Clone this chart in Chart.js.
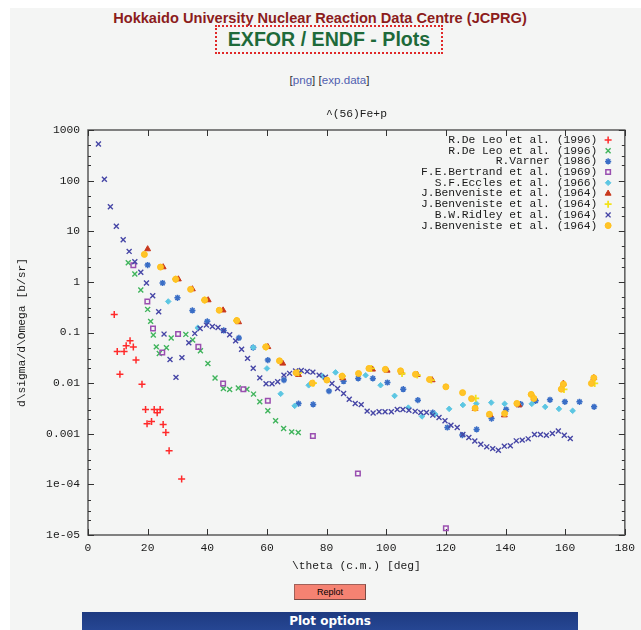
<!DOCTYPE html>
<html>
<head>
<meta charset="utf-8">
<title>EXFOR / ENDF - Plots</title>
<script src="https://cdn.jsdelivr.net/npm/chart.js@4.4.1/dist/chart.umd.min.js"></script>
<style>
  html, body { margin: 0; padding: 0; background: #fff; width: 641px; height: 630px; overflow: hidden; }
  #panel { position: absolute; left: 10px; top: 8px; right: 0; bottom: 0; background: #f4f5f4; }
  .abs { position: absolute; }
  #org { left: 0; top: 9px; width: 640px; text-align: center; font: bold 14.6px "Liberation Sans", Arial, sans-serif; line-height: 18px; color: #8c1c1c; }
  #head { left: 215px; top: 25px; width: 228px; height: 29px; box-sizing: border-box; border: 2px dotted #e02828; text-align: center; font: bold 19.6px "Liberation Sans", Arial, sans-serif; line-height: 25px; color: #1e6a3a; }
  #links { left: 0; top: 73px; width: 659px; text-align: center; font: 11.6px "Liberation Sans", Arial, sans-serif; line-height: 14px; color: #333; }
  #links a { color: #5060b0; text-decoration: none; }
  #plot { left: 0; top: 100px; width: 641px; height: 480px; }
  #replot { left: 294px; top: 584px; width: 72px; height: 16px; box-sizing: border-box; background: #f58272; border: 1px solid #a06058; border-right-color: #7a4a44; border-bottom-color: #7a4a44; font: 9px "Liberation Sans", Arial, sans-serif; line-height: 14px; text-align: center; color: #000; }
  #options { left: 82px; top: 612px; width: 496px; height: 30px; background: linear-gradient(#1d3a80, #2c4fa0); color: #fff; font: bold 12px "DejaVu Sans", sans-serif; text-align: center; line-height: 18px; }
</style>
</head>
<body>
<div class="abs" style="left:0;top:0;width:10px;height:630px;background:#fff"></div>
<div id="panel"></div>
<div id="org" class="abs">Hokkaido University Nuclear Reaction Data Centre (JCPRG)</div>
<div id="head" class="abs">EXFOR / ENDF - Plots</div>
<div id="links" class="abs">[<a href="#">png</a>] [<a href="#">exp.data</a>]</div>
<div id="plot" class="abs"><canvas id="chart" width="641" height="480"></canvas></div>
<div id="replot" class="abs">Replot</div>
<div id="options" class="abs">Plot options</div>

<script>
// Titulos e legendas
const plotTitle = "^(56)Fe+p";
const xTitle = "\\theta (c.m.) [deg]";
const yTitle = "d\\sigma/d\\Omega [b/sr]";
const seriesNames = [
  "R.De Leo et al. (1996)",
  "R.De Leo et al. (1996)",
  "R.Varner (1986)",
  "F.E.Bertrand et al. (1969)",
  "S.F.Eccles et al. (1966)",
  "J.Benveniste et al. (1964)",
  "J.Benveniste et al. (1964)",
  "B.W.Ridley et al. (1964)",
  "J.Benveniste et al. (1964)"
];

// Ticks
const xTicks = [0, 20, 40, 60, 80, 100, 120, 140, 160, 180];
const yTicks = [1e-5, 1e-4, 1e-3, 1e-2, 1e-1, 1, 10, 100, 1000];
const yTickLabels = ["1e-05", "1e-04", "0.001", "0.01", "0.1", "1", "10", "100", "1000"];

// Dados (angulo, secao de choque)
const deLeoA_theta = [8.8, 9.8, 10.7, 12.1, 12.8, 14.1, 15.2, 16.1, 18.1, 19.3, 19.8, 21.3, 22.2, 23.2, 24.2, 25.2, 26.1, 27.2, 31.4];
const deLeoA_sig = [0.228, 0.042, 0.0149, 0.042, 0.0546, 0.0686, 0.052, 0.0285, 0.0095, 0.003, 0.00157, 0.00175, 0.003, 0.00259, 0.003, 0.00153, 0.00106, 0.00046, 1.27e-4];

const deLeoB_theta = [13.5, 15.7, 17.7, 20.0, 21.0, 21.9, 22.9, 23.9, 26.3, 27.9, 32.8, 35.1, 37.7, 40.2, 42.6, 45.4, 47.5, 50.4, 53.3, 55.5, 57.6, 60.3, 62.9, 65.6, 68.3, 70.5];
const deLeoB_sig = [2.38, 1.43, 0.69, 0.286, 0.166, 0.089, 0.052, 0.0386, 0.0499, 0.078, 0.0917, 0.0708, 0.0436, 0.0245, 0.0126, 0.00785, 0.0075, 0.008, 0.0076, 0.00607, 0.00427, 0.00284, 0.0018, 0.00127, 0.00109, 0.00106];

const varner_theta = [20, 25, 30, 35, 40, 45.5, 50.6, 55.4, 60.3, 65.7, 70.6, 75.5, 80.8, 85.7, 90.6, 95.5, 100.4, 105.7, 110.6, 115.6, 120.5, 125.5, 130.3, 135.3, 140.2, 145.1, 150.1, 154.9, 159.9, 164.8, 169.7];
const varner_sig = [2.15, 0.95, 0.485, 0.273, 0.166, 0.110, 0.078, 0.0503, 0.0285, 0.0115, 0.00394, 0.0038, 0.00695, 0.0109, 0.0124, 0.0124, 0.0103, 0.0076, 0.00461, 0.00261, 0.00133, 0.00094, 0.00122, 0.00199, 0.0030, 0.00385, 0.00447, 0.00468, 0.00427, 0.00427, 0.0034];

const bertrand_theta = [15.2, 19.9, 21.8, 24.9, 30.2, 37.0, 45.3, 52.1, 60.3, 75.4, 90.5, 120.0];
const bertrand_sig = [2.13, 0.408, 0.12, 0.0404, 0.093, 0.052, 0.00986, 0.0076, 0.00447, 0.0009, 1.64e-4, 1.36e-5];

const eccles_theta = [26.9, 36.8, 55.4, 60.0, 64.6, 69.3, 74.0, 78.7, 83.0, 93.1, 98.1, 102.8, 107.4, 112.0, 116.4, 121.1, 125.7, 130.2, 135.2, 139.7, 144.4, 148.8, 153.3, 157.9, 162.5];
const eccles_sig = [0.41, 0.124, 0.0508, 0.0195, 0.00615, 0.00356, 0.00906, 0.0137, 0.0163, 0.0143, 0.0091, 0.0056, 0.00328, 0.0022, 0.00244, 0.0031, 0.0037, 0.00393, 0.00412, 0.0039, 0.00372, 0.0039, 0.0034, 0.0031, 0.00284];

const benvA_theta = [20.0, 25.2, 30.3, 35.0, 40.3, 45.3, 50.5, 60.3, 65.3, 70.6, 85.4, 95.4, 100.3, 105.2, 110.4, 115.4, 129.8, 134.8, 139.6, 144.5, 149.5, 159.4, 169.6];
const benvA_sig = [4.45, 1.96, 1.13, 0.72, 0.437, 0.275, 0.161, 0.052, 0.0245, 0.0146, 0.0126, 0.0187, 0.0178, 0.0163, 0.0147, 0.0115, 0.00313, 0.00236, 0.00233, 0.00367, 0.00499, 0.00986, 0.0127];

const benvB_theta = [29.4, 39.1, 49.8, 59.7, 70.6, 75.6, 85.3, 95.0, 105.3, 110.4, 115.1, 130.0, 148.7, 159.6, 169.9];
const benvB_sig = [1.13, 0.437, 0.172, 0.052, 0.016, 0.01, 0.0137, 0.0195, 0.0155, 0.0144, 0.0115, 0.005, 0.0058, 0.0075, 0.00986];

const ridley_theta = [3.5, 5.5, 7.5, 9.5, 11.8, 13.8, 15.7, 17.7, 19.6, 21.7, 23.7, 25.5, 27.5, 29.5, 31.5,
  33.8, 35.8, 37.6, 39.7, 41.7, 43.6, 45.5, 47.5, 49.5, 51.5, 53.5, 55.4, 57.6, 59.7, 61.7, 63.6, 65.7, 67.6, 69.6, 71.5,
  73.5, 75.4, 77.5, 79.6, 81.8, 83.7, 85.7, 87.6, 89.6, 91.6, 93.6, 95.6, 97.6, 99.6, 101.7, 103.7, 105.6, 107.6, 109.7, 111.6,
  113.5, 115.6, 117.7, 119.7, 121.7, 123.8, 125.7, 127.7, 129.7, 131.7, 133.7, 135.7, 137.6, 139.6, 141.6, 143.6, 145.6, 147.6, 149.7, 151.7,
  153.7, 155.7, 157.7, 159.7, 161.7];
const ridley_sig = [528, 106, 30.5, 12.5, 6.8, 4.0, 2.5, 1.55, 0.947, 0.531, 0.256, 0.093, 0.0294, 0.013, 0.0319,
  0.0625, 0.096, 0.12, 0.14, 0.131, 0.125, 0.109, 0.0901, 0.0683, 0.0466, 0.0308, 0.0196, 0.0127, 0.00968, 0.00968, 0.0106, 0.0144, 0.0156, 0.0173, 0.0177,
  0.017, 0.0165, 0.0144, 0.0131, 0.00986, 0.00786, 0.00625, 0.00479, 0.00397, 0.00376, 0.0028, 0.00258, 0.00271, 0.00271, 0.00271, 0.00302, 0.00302, 0.00292, 0.00277, 0.00264,
  0.00264, 0.00233, 0.0021, 0.0018, 0.00147, 0.00133, 0.00097, 0.000845, 0.000721, 0.000618, 0.000551, 0.000508, 0.000474, 0.000569, 0.000577, 0.000724, 0.000748, 0.000793, 0.00097, 0.00097,
  0.000938, 0.00101, 0.00113, 0.000938, 0.000807];

const benvC_theta = [18.9, 24.3, 29.4, 34.4, 39.1, 44.0, 49.9, 59.6, 64.2, 69.8, 75.2, 80.1, 85.2, 90.7, 94.2, 99.7, 104.8, 109.8, 114.5, 120.0, 125.6, 128.6, 129.8, 134.6, 139.7, 143.8, 148.6, 149.5, 158.7, 159.4, 168.8, 169.6];
const benvC_sig = [3.49, 1.96, 1.13, 0.711, 0.437, 0.275, 0.172, 0.052, 0.0276, 0.016, 0.01, 0.0115, 0.0137, 0.0155, 0.0195, 0.0187, 0.0175, 0.0149, 0.0118, 0.00845, 0.00649, 0.00494, 0.0032, 0.00242, 0.00252, 0.00397, 0.00598, 0.00499, 0.0076, 0.00955, 0.00986, 0.0127];

// Estilos dos marcadores (gnuplot)
const markerStyles = ["cross", "crossRot", "star", "rect", "rectRot", "triangle", "cross", "crossRot", "circle"];
const markerColors = ["#ff2a2a", "#40b45c", "#3a6ec6", "#9a4fb0", "#5cc6e2", "#c8381c", "#f2e21a", "#4646a6", "#ffbf1c"];
const markerFills = ["#ff2a2a", "#40b45c", "#3a6ec6", "rgba(0,0,0,0)", "#5cc6e2", "#c8381c", "#f2e21a", "#4646a6", "#ffc428"];
const markerSizes = [3.5, 3.5, 3.1, 3.2, 2.8, 3.4, 3.5, 3.5, 3];
const markerWidths = [1.5, 1.4, 1.5, 1.5, 1, 1, 1.8, 1.4, 1];

const thetas = [deLeoA_theta, deLeoB_theta, varner_theta, bertrand_theta, eccles_theta, benvA_theta, benvB_theta, ridley_theta, benvC_theta];
const sigmas = [deLeoA_sig, deLeoB_sig, varner_sig, bertrand_sig, eccles_sig, benvA_sig, benvB_sig, ridley_sig, benvC_sig];

const monoFont = "'Liberation Mono', 'DejaVu Sans Mono', monospace";
const fSize = 11.3;

// Montar datasets
var datasets = seriesNames.map(function(name, i){
  return {
    label: name,
    data: thetas[i].map((t, k) => ({x: t, y: sigmas[i][k]})),
    pointStyle: markerStyles[i],
    pointRadius: markerSizes[i],
    pointBorderWidth: markerWidths[i],
    borderColor: markerColors[i],
    backgroundColor: markerFills[i],
    showLine: false,
    order: seriesNames.length - 1 - i
  };
});

// Moldura, ticks, titulo e legenda
const gnuplotFrame = {
  id: "gnuplotFrame",
  beforeDatasetsDraw(chart){
    const ctx = chart.ctx;
    const a = chart.chartArea;
    const sx = chart.scales.x, sy = chart.scales.y;
    ctx.save();
    ctx.strokeStyle = "#5a5a5a";
    ctx.lineWidth = 1.5;
    ctx.strokeRect(a.left, a.top, a.right - a.left, a.bottom - a.top);
    ctx.lineWidth = 1;
    ctx.strokeStyle = "#333";
    ctx.beginPath();
    xTicks.forEach(t => {
      const px = Math.round(sx.getPixelForValue(t)) + 0.5;
      ctx.moveTo(px, a.bottom); ctx.lineTo(px, a.bottom - 6);
      ctx.moveTo(px, a.top); ctx.lineTo(px, a.top + 6);
    });
    yTicks.forEach(t => {
      const py = Math.round(sy.getPixelForValue(t)) + 0.5;
      ctx.moveTo(a.left, py); ctx.lineTo(a.left + 6, py);
      ctx.moveTo(a.right, py); ctx.lineTo(a.right - 6, py);
      if (t < 1000) {
        [2, 3, 5].forEach(m => {
          const pm = Math.round(sy.getPixelForValue(t * m)) + 0.5;
          ctx.moveTo(a.left, pm); ctx.lineTo(a.left + 3, pm);
          ctx.moveTo(a.right, pm); ctx.lineTo(a.right - 3, pm);
        });
      }
    });
    ctx.stroke();
    ctx.restore();
  },
  afterDraw(chart){
    const ctx = chart.ctx;
    const a = chart.chartArea;
    ctx.save();
    ctx.fillStyle = "#1a1a1a";
    ctx.font = fSize + "px " + monoFont;
    ctx.textBaseline = "middle";
    ctx.textAlign = "center";
    ctx.fillText(plotTitle, (a.left + a.right) / 2, 13.6);

    // Legenda no canto superior direito
    ctx.textAlign = "right";
    seriesNames.forEach((name, i) => {
      const yy = a.top + 10 + i * 10.7;
      ctx.fillStyle = "#1a1a1a";
      ctx.fillText(name, a.right - 27.5, yy);
      ctx.strokeStyle = markerColors[i];
      ctx.fillStyle = markerFills[i];
      ctx.lineWidth = markerWidths[i];
      Chart.helpers.drawPoint(ctx, {pointStyle: markerStyles[i], radius: markerSizes[i], borderWidth: markerWidths[i], rotation: 0}, a.right - 16.7, yy);
    });
    ctx.restore();
  }
};

const MyChart = new Chart(document.getElementById("chart"), {
  type: "scatter",
  data: {datasets: datasets},
  options: {
    responsive: false,
    animation: false,
    events: [],
    layout: {padding: {top: 30, right: 16, bottom: 0, left: 0}},
    plugins: {legend: {display: false}, title: {display: false}, tooltip: {enabled: false}},
    scales: {
      x: {
        type: "linear",
        min: 0,
        max: 180,
        afterFit: s => { s.height = 45; },
        afterBuildTicks: s => { s.ticks = xTicks.map(v => ({value: v})); },
        grid: {display: false, drawTicks: false},
        border: {display: false},
        ticks: {autoSkip: false, maxRotation: 0, padding: 6, color: "#1a1a1a", font: {family: monoFont, size: fSize}},
        title: {display: true, text: xTitle, color: "#1a1a1a", font: {family: monoFont, size: fSize}, padding: {top: 0, bottom: 7.2}}
      },
      y: {
        type: "logarithmic",
        min: 1e-5,
        max: 1000,
        afterFit: s => { s.width = 88; },
        afterBuildTicks: s => { s.ticks = yTicks.map(v => ({value: v})); },
        grid: {display: false, drawTicks: false},
        border: {display: false},
        ticks: {autoSkip: false, padding: 8, color: "#1a1a1a", font: {family: monoFont, size: fSize},
                callback: (v, i) => yTickLabels[i]},
        title: {display: true, text: yTitle, color: "#1a1a1a", font: {family: monoFont, size: fSize}, padding: {top: 15.2, bottom: 0}}
      }
    }
  },
  plugins: [gnuplotFrame]
});
</script>
</body>
</html>
